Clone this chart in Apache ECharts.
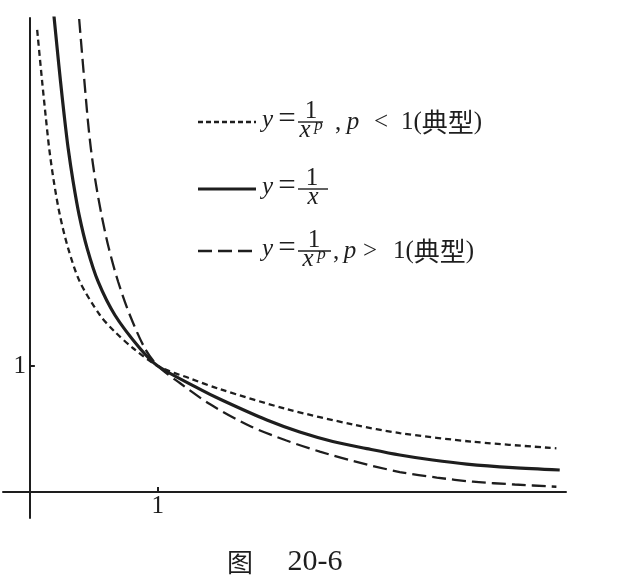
<!DOCTYPE html>
<html><head><meta charset="utf-8">
<script src="https://cdn.jsdelivr.net/npm/echarts@6/dist/echarts.min.js"></script>
<style>html,body{margin:0;padding:0;background:#fff}#c{width:629px;height:583px}</style>
</head><body><div id="c"></div>
<script>
// values
const dottedX = [0.057, 0.0961, 0.1227, 0.1508, 0.1875, 0.2344, 0.2992, 0.3906, 0.5469, 0.6641, 0.807, 1.0, 1.25, 1.484, 2.005, 2.526, 2.891, 3.463, 4.115];
const dottedY = [3.667, 3.256, 2.992, 2.728, 2.463, 2.198, 1.934, 1.669, 1.405, 1.272, 1.141, 1.0, 0.902, 0.817, 0.659, 0.536, 0.468, 0.399, 0.347];
const solidX  = [0.1875, 0.2133, 0.2398, 0.268, 0.2992, 0.3383, 0.3852, 0.4477, 0.5336, 0.6641, 0.8594, 1.0, 1.328, 1.5, 1.852, 2.109, 2.367, 2.633, 2.891, 3.148, 3.414, 3.773, 4.141];
const solidY  = [3.786, 3.521, 3.256, 2.992, 2.728, 2.463, 2.198, 1.934, 1.669, 1.405, 1.141, 1.0, 0.817, 0.730, 0.571, 0.476, 0.401, 0.345, 0.294, 0.254, 0.222, 0.194, 0.175];
const dashedX = [0.3852, 0.4492, 0.4766, 0.5133, 0.5602, 0.6172, 0.6898, 0.7813, 0.8984, 1.0, 1.172, 1.406, 1.719, 2.005, 2.266, 2.526, 2.891, 3.180, 3.463, 3.789, 4.115];
const dashedY = [3.754, 2.992, 2.728, 2.463, 2.198, 1.934, 1.669, 1.405, 1.141, 1.0, 0.865, 0.698, 0.524, 0.409, 0.321, 0.246, 0.159, 0.115, 0.082, 0.060, 0.042];
const xTicks = [1];
const yTicks = [1];
const tickLabel = '1';
const caption = ['图', '20-6'];

const zip = (xs, ys) => xs.map((x, i) => [x, ys[i]]);
const INK = '#1e1e1e';
const SERIF = '"Liberation Serif", "DejaVu Serif", serif';
const CJKF = '"Noto Sans CJK SC", serif';

function txt(x, y, text, opt) {
  opt = opt || {};
  return {
    type: 'text', z: 100,
    style: Object.assign({
      x: x, y: y, text: text, fill: INK,
      fontFamily: SERIF, fontSize: 25,
      textAlign: 'center', textVerticalAlign: 'middle',
      align: 'center', verticalAlign: 'middle'
    }, opt)
  };
}
function hline(x1, x2, y, w, dash) {
  return { type: 'line', z: 100, shape: { x1: x1, y1: y, x2: x2, y2: y },
    style: { stroke: INK, lineWidth: w, lineDash: dash || null } };
}
const LEFT = { textAlign: 'left', align: 'left' };
const richTail = {
  s: { fontFamily: SERIF, fontSize: 25, fill: INK },
  c: { fontFamily: CJKF, fontSize: 26, fill: INK }
};

function legendRow(r) {
  const y = r.y, els = [];
  els.push(hline(198, 256, y, r.w, r.dash));
  els.push(txt(262, y - 2, 'y', Object.assign({ fontStyle: 'italic' }, LEFT)));
  els.push(txt(287, y - 2, '=', { fontSize: 31 }));
  els.push(hline(298, r.barEnd, y, 1.4));
  els.push(txt(r.numX, y - 11, '1'));
  els.push(txt(r.denX, y + 8, 'x', { fontStyle: 'italic' }));
  if (r.pX) els.push(txt(r.pX, y + 4, 'p', { fontStyle: 'italic', fontSize: 17 }));
  if (r.rel) {
    els.push(txt(r.commaX, y + 1, ',', LEFT));
    els.push(txt(r.pCX, y, 'p', { fontStyle: 'italic' }));
    els.push(txt(r.relX, y, r.rel));
    els.push(txt(r.oneX, y, '{s|1(}{c|典型}{s|)}', Object.assign({ rich: richTail }, LEFT)));
  }
  return els;
}

const legendRows = [
  { y: 122, dash: [5, 3], w: 2.3, barEnd: 323, numX: 311, denX: 305, pX: 318.5,
    commaX: 335, pCX: 353, rel: '<', relX: 381, oneX: 401 },
  { y: 189, dash: null, w: 3.2, barEnd: 328, numX: 312, denX: 313 },
  { y: 251, dash: [14, 6], w: 2.3, barEnd: 331, numX: 314, denX: 308, pX: 321.5,
    commaX: 333, pCX: 350, rel: '>', relX: 370, oneX: 393 }
];

const chart = echarts.init(document.getElementById('c'), null, { renderer: 'canvas' });
chart.setOption({
  animation: false,
  backgroundColor: '#fff',
  grid: { left: 3, right: 63, top: 18, bottom: 65, containLabel: false, outerBoundsMode: 'none' },
  xAxis: {
    type: 'value', min: -0.21, max: 4.19,
    splitLine: { show: false },
    axisLine: { onZero: true, lineStyle: { color: INK, width: 2 } },
    axisTick: { show: true, inside: true, length: 5, customValues: xTicks, lineStyle: { color: INK, width: 2 } },
    axisLabel: { show: false }
  },
  yAxis: {
    type: 'value', min: -0.206, max: 3.762,
    splitLine: { show: false },
    axisLine: { onZero: true, lineStyle: { color: INK, width: 2 } },
    axisTick: { show: true, inside: true, length: 5, customValues: yTicks, lineStyle: { color: INK, width: 2 } },
    axisLabel: { show: false }
  },
  series: [
    { type: 'line', data: zip(dottedX, dottedY), showSymbol: false, smooth: 0.3,
      lineStyle: { color: INK, width: 2.3, type: [6, 4] }, clip: true },
    { type: 'line', data: zip(solidX, solidY), showSymbol: false, smooth: 0.3,
      lineStyle: { color: INK, width: 3.2, type: 'solid' }, clip: true },
    { type: 'line', data: zip(dashedX, dashedY), showSymbol: false, smooth: 0.3,
      lineStyle: { color: INK, width: 2.3, type: [14, 6] }, clip: true }
  ]
});

// tick labels placed through the chart's own scales
const graphics = [];
xTicks.forEach(v => {
  const p = chart.convertToPixel({ gridIndex: 0 }, [v, 0]);
  graphics.push(txt(p[0], p[1] + 14, tickLabel));
});
yTicks.forEach(v => {
  const p = chart.convertToPixel({ gridIndex: 0 }, [0, v]);
  graphics.push(txt(p[0] - 10, p[1], tickLabel));
});
legendRows.forEach(r => legendRow(r).forEach(e => graphics.push(e)));
graphics.push(txt(240, 562, caption[0], { fontFamily: CJKF, fontSize: 26 }));
graphics.push(txt(315, 562, caption[1], { fontSize: 30 }));
chart.setOption({ graphic: { elements: graphics } });
</script></body></html>
